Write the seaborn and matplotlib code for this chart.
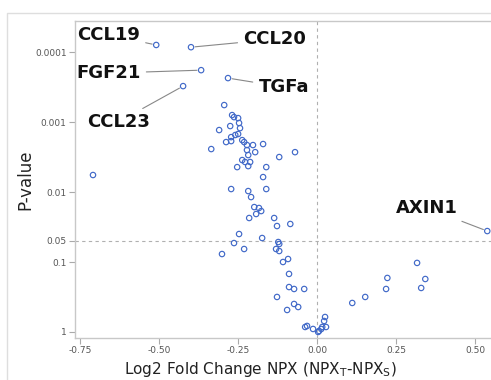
import matplotlib
matplotlib.use("Agg")
import matplotlib.pyplot as plt
from matplotlib.lines import Line2D
import seaborn as sns
import pandas as pd

# ---- data ----
log2fc = [-0.509, -0.399, -0.367, -0.282, -0.424, -0.709, 0.538,
          -0.294, -0.269, -0.263, -0.250, -0.247, -0.244, -0.275, -0.310,
          -0.250, -0.259, -0.272, -0.288, -0.272, -0.237, -0.231, -0.222,
          -0.203, -0.171, -0.335, -0.222, -0.196, -0.218, -0.070, -0.120,
          -0.237, -0.228, -0.212, -0.218, -0.253, -0.161, -0.171, -0.272,
          -0.218, -0.161, -0.209, -0.199, -0.184, -0.177, -0.193, -0.215,
          -0.136, -0.127, -0.085, -0.247, -0.174, -0.263, -0.123, -0.120,
          -0.231, -0.130, -0.120, -0.301, -0.092, -0.108, -0.089, -0.089,
          -0.073, -0.041, -0.127, -0.073, -0.060, -0.095, -0.038, -0.032,
          -0.013, 0.003, 0.006, 0.013, 0.016, 0.028, 0.022, 0.025,
          0.111, 0.152, 0.218, 0.222, 0.316, 0.342, 0.329]
pvalue = [7.9e-5, 8.5e-5, 1.81e-4, 2.35e-4, 3.06e-4, 5.71e-3, 0.0361,
          5.71e-4, 7.94e-4, 8.49e-4, 8.77e-4, 1.03e-3, 1.22e-3, 1.14e-3, 1.30e-3,
          1.48e-3, 1.53e-3, 1.64e-3, 1.93e-3, 1.87e-3, 1.81e-3, 1.93e-3, 2.13e-3,
          2.13e-3, 2.06e-3, 2.43e-3, 2.51e-3, 2.69e-3, 2.96e-3, 2.69e-3, 3.16e-3,
          3.49e-3, 3.72e-3, 3.72e-3, 4.26e-3, 4.40e-3, 4.40e-3, 6.11e-3, 9.06e-3,
          9.68e-3, 9.06e-3, 0.0118, 0.0164, 0.0169, 0.0187, 0.0206, 0.0235,
          0.0235, 0.0306, 0.0286, 0.0398, 0.0454, 0.0536, 0.0518, 0.0553,
          0.0652, 0.0652, 0.0697, 0.0769, 0.0906, 0.100, 0.148, 0.228,
          0.243, 0.243, 0.316, 0.398, 0.440, 0.485, 0.849, 0.820,
          0.906, 1.0, 0.968, 0.906, 0.849, 0.849, 0.697, 0.611,
          0.385, 0.316, 0.243, 0.169, 0.103, 0.175, 0.235]
labels = ["CCL19", "CCL20", "FGF21", "TGFa", "CCL23", "", "AXIN1"] + [""] * (len(log2fc) - 7)

x_ticks = [-0.75, -0.50, -0.25, 0.00, 0.25, 0.50]
x_ticklabels = ["-0.75", "-0.50", "-0.25", "0.00", "0.25", "0.50"]
y_ticks = [0.0001, 0.001, 0.01, 0.05, 0.1, 1]
y_ticklabels = ["0.0001", "0.001", "0.01", "0.05", "0.1", "1"]
sig_threshold = 0.05

df = pd.DataFrame({"log2fc": log2fc, "pvalue": pvalue, "label": labels})

# label placement (offsets in pixels from the point)
label_offsets = {"CCL19": (-48, 10), "CCL20": (84, 8), "FGF21": (-93, -3),
                 "TGFa": (56, -9), "CCL23": (-65, -36), "AXIN1": (-60, 23)}

sns.set_theme(style="white")
plt.rcParams["font.family"] = ["DejaVu Sans"]

fig = plt.figure(figsize=(4.91, 3.8), dpi=100)
# outer panel frame (left and top edges only are visible in the reference)
fig.add_artist(Line2D([0.014, 0.014, 1.0], [0.0, 0.9658, 0.9658], transform=fig.transFigure,
                      color="#dedede", linewidth=1.0))
ax = fig.add_axes([0.1527, 0.1105, 0.8500, 0.834])

ax.axvline(0, color="#b0b0b0", linestyle=(0, (3, 3)), linewidth=0.8, zorder=1)
ax.axhline(sig_threshold, color="#b0b0b0", linestyle=(0, (3, 3)), linewidth=0.8, zorder=1)

sns.scatterplot(data=df, x="log2fc", y="pvalue", ax=ax, marker="o", s=15,
                facecolors="none", edgecolor="#4169c8", linewidth=0.85, zorder=3)

ax.set_yscale("log")
ax.set_xlim(-0.766, 0.554)
ax.set_ylim(1.22, 3.6e-5)
ax.set_yticks(y_ticks)
ax.set_yticklabels(y_ticklabels)
ax.set_xticks(x_ticks)
ax.set_xticklabels(x_ticklabels)
ax.minorticks_off()
ax.tick_params(axis="both", which="major", length=4, width=0.8, color="#aaaaaa",
               labelsize=6.5, labelcolor="#555555", pad=2, direction="out",
               bottom=True, left=True)

for side in ["left", "bottom", "top"]:
    ax.spines[side].set_color("#c8c8c8")
    ax.spines[side].set_linewidth(1.0)
ax.spines["right"].set_visible(False)

ax.set_xlabel(r"Log2 Fold Change NPX (NPX$_\mathregular{T}$-NPX$_\mathregular{S}$)",
              fontsize=11, color="#222222")
ax.set_ylabel("P-value", fontsize=12, color="#222222")
ax.xaxis.set_label_coords(0.444, -0.10)
ax.xaxis.label.set_va("center")
ax.yaxis.set_label_coords(-0.120, 0.5)
ax.yaxis.label.set_va("center")

for _, row in df[df["label"] != ""].iterrows():
    dx, dy = label_offsets[row["label"]]
    ax.annotate(row["label"], xy=(row["log2fc"], row["pvalue"]),
                xytext=(dx, dy), textcoords="offset pixels",
                ha="center", va="center", fontsize=13, fontweight="bold",
                color="#111111", zorder=4,
                arrowprops=dict(arrowstyle="-", color="#888888", lw=0.8,
                                shrinkA=2, shrinkB=3))

fig.savefig("out.png", dpi=100)
